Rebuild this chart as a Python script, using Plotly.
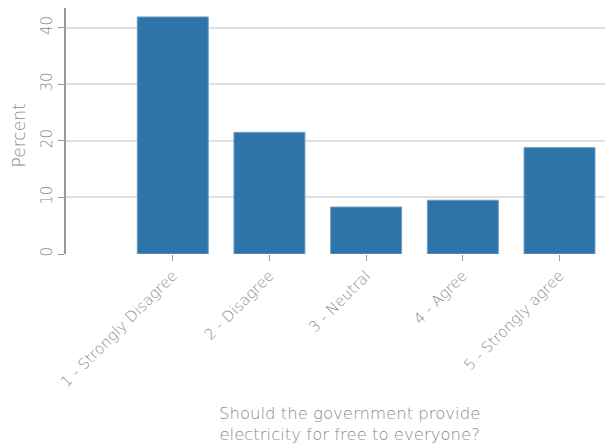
import plotly.graph_objects as go

categories = ["1 - Strongly Disagree", "2 - Disagree", "3 - Neutral", "4 - Agree", "5 - Strongly agree"]
percent = [41.9, 21.5, 8.3, 9.5, 18.8]
y_ticks = [0, 10, 20, 30, 40]

FONT = "DejaVu Sans"
TXT = "#8a8a8a"

fig = go.Figure(go.Bar(
    x=categories, y=percent,
    marker=dict(color="#2e74a8", line=dict(color="#6f9fc8", width=1)),
))

fig.update_layout(
    width=605, height=439,
    margin=dict(l=58, r=0, t=0, b=193, autoexpand=False),
    paper_bgcolor="white", plot_bgcolor="white",
    bargap=0.266,
    showlegend=False,
    font=dict(family=FONT, color=TXT, size=14, weight=200),
    annotations=[
        dict(text="Should the government provide<br>electricity for free to everyone?",
             xref="paper", yref="paper", x=0.519, y=-0.69,
             xanchor="center", yanchor="middle", showarrow=False,
             font=dict(family=FONT, size=16.5, color=TXT, weight=200)),
        dict(text="Percent", xref="paper", yref="paper", x=-0.086, y=0.482,
             xanchor="center", yanchor="middle", textangle=-90, showarrow=False,
             font=dict(family=FONT, size=17, color=TXT, weight=200)),
    ],
)

fig.update_xaxes(
    range=[-1.104, 4.553], automargin=False,
    showgrid=False, showline=False, zeroline=False,
    ticks="outside", ticklen=6, tickcolor="#999999", tickwidth=1,
    tickangle=-45, tickfont=dict(size=15, color=TXT, weight=200),
)
fig.update_yaxes(
    range=[0, 43.48], automargin=False,
    tickvals=y_ticks, ticktext=[str(v) for v in y_ticks],
    showgrid=True, gridcolor="#dde1e4", gridwidth=2,
    zeroline=False,
    showline=True, linecolor="#999999", linewidth=1.5,
    ticks="outside", ticklen=6, tickcolor="#999999", tickwidth=1,
    ticklabelstandoff=0,
    tickangle=-90, tickfont=dict(size=15, color=TXT, weight=200),
)

fig.write_html("out.html")
